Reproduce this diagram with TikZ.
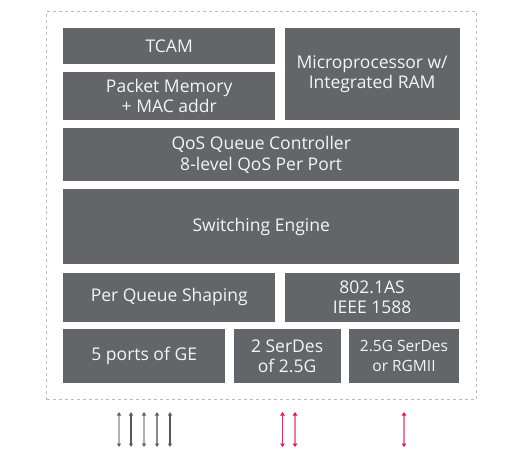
\documentclass[tikz,border=0pt]{standalone}
\usepackage{fontspec}
\setmainfont{Open Sans}
\usetikzlibrary{positioning, fit, arrows.meta}

\definecolor{chipgray}{HTML}{636569}
\definecolor{edgegray}{HTML}{BDBDBD}
\definecolor{headgray}{HTML}{5F6166}
\definecolor{lightline}{HTML}{B0B0B0}
\definecolor{midline}{HTML}{8A8A8A}
\definecolor{darkline}{HTML}{55575B}
\definecolor{headpink}{HTML}{E2175B}
\definecolor{darkpink}{HTML}{E2286A}
\definecolor{lightpink}{HTML}{F07CA2}

\begin{document}
\begin{tikzpicture}[x=1bp, y=-1bp, node distance=7.5bp and 9bp,
blk/.style={rectangle, fill=chipgray, text=white!96!black, inner sep=0pt, align=center,
  font=\fontsize{17.5bp}{20.5bp}\selectfont},
chip/.style={rectangle, draw=edgegray, dashed, line width=0.8bp, inner sep=16.3bp},
gport/.style={line width=1.2bp, {Triangle[length=3.5bp,width=4bp,color=headgray]}-{Triangle[length=3.5bp,width=4bp,color=headgray]}},
pport/.style={line width=1.4bp, {Triangle[length=3.5bp,width=4.5bp,color=headpink]}-{Triangle[length=3.5bp,width=4.5bp,color=headpink]}} ]
\useasboundingbox (0,0) rectangle (517,453);

\node (tcam) [blk, anchor=north west, minimum width=212bp, minimum height=36bp] at (63,28) {TCAM};
\node (pkt) [blk, minimum width=212bp, minimum height=48bp, below=7.5bp of tcam.south west, anchor=north west] {Packet Memory\\+ MAC addr};
\node (cpu) [blk, minimum width=175bp, minimum height=91.5bp, right=9bp of tcam.north east, anchor=north west] {Microprocessor w/\\Integrated RAM};
\node (qos) [blk, minimum width=396bp, minimum height=53.5bp, below=7.5bp of pkt.south west, anchor=north west] {QoS Queue Controller\\8-level QoS Per Port};
\node (sw) [blk, minimum width=396bp, minimum height=75bp, below=7.5bp of qos.south west, anchor=north west] {Switching Engine};
\node (shape) [blk, minimum width=212bp, minimum height=49bp, below=8bp of sw.south west, anchor=north west] {Per Queue Shaping};
\node (ptp) [blk, minimum width=175bp, minimum height=49bp, right=9bp of shape.north east, anchor=north west] {802.1AS\\IEEE 1588};
\node (ge) [blk, minimum width=162bp, minimum height=54bp, below=7bp of shape.south west, anchor=north west] {5 ports of GE};
\node (serdes) [blk, minimum width=107bp, minimum height=54bp, right=8bp of ge.north east, anchor=north west] {2 SerDes\\of 2.5G};
\node (rgmii) [blk, minimum width=110bp, minimum height=54bp, right=8bp of serdes.north east, anchor=north west,
  font=\fontsize{15.5bp}{19.5bp}\selectfont] {2.5G SerDes\\or RGMII};

\node (soc) [chip, fit=(tcam) (cpu) (ge) (rgmii)] {};

% external links
\foreach \n/\x/\c in {1/119/lightline, 2/131/darkline, 3/144/lightline, 4/157/midline, 5/170/darkline} {
  \coordinate (g\n t) at (\x,412);
  \coordinate (g\n b) at (\x,447);
  \draw[gport, \c] (g\n t) -- (g\n b);
}
\foreach \n/\x/\c in {1/282.5/darkpink, 2/295/lightpink, 3/404/lightpink} {
  \coordinate (p\n t) at (\x,412);
  \coordinate (p\n b) at (\x,447);
  \draw[pport, \c] (p\n t) -- (p\n b);
}
\end{tikzpicture}
\end{document}
